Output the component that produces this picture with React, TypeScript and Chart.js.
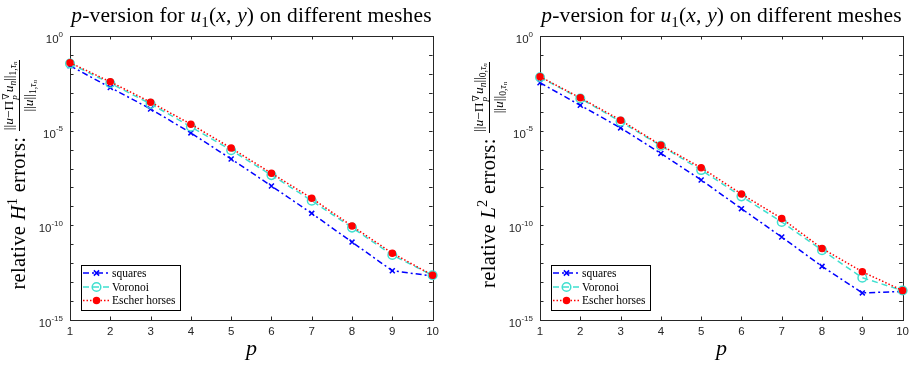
import React, { useEffect, useRef } from 'react';
import { Chart, registerables } from 'chart.js';

Chart.register(...registerables);

// ---------- data ----------
const pValues = [1, 2, 3, 4, 5, 6, 7, 8, 9, 10];
const seriesNames = ['squares', 'Voronoi', 'Escher horses'];

// relative H1 errors
const h1Squares = [2.7e-2, 1.9e-3, 1.4e-4, 7.6e-6, 3.2e-7, 1.2e-8, 4.3e-10, 1.3e-11, 4.0e-13, 2.1e-13];
const h1Voronoi = [3.5e-2, 3.2e-3, 2.6e-4, 1.6e-5, 9.3e-7, 4.5e-8, 2.0e-9, 7.6e-11, 2.7e-12, 2.3e-13];
const h1Escher = [3.9e-2, 3.8e-3, 3.2e-4, 2.2e-5, 1.2e-6, 5.6e-8, 2.7e-9, 9.1e-11, 3.4e-12, 2.3e-13];

// relative L2 errors
const l2Squares = [3.4e-3, 2.2e-4, 1.4e-5, 6.3e-7, 2.5e-8, 7.6e-10, 2.4e-11, 6.8e-13, 2.7e-14, 3.2e-14];
const l2Voronoi = [6.6e-3, 5.0e-4, 3.0e-5, 1.6e-6, 8.3e-8, 3.4e-9, 1.5e-10, 4.9e-12, 1.7e-13, 3.6e-14];
const l2Escher = [7.1e-3, 5.4e-4, 3.6e-5, 1.7e-6, 1.1e-7, 4.5e-9, 2.3e-10, 6.0e-12, 3.5e-13, 3.6e-14];

const yTickExponents = [0, -5, -10, -15];
const yTickBase = '10';
const yTickExpLabels = ['0', '-5', '-10', '-15'];
const yDecades = [0, -1, -2, -3, -4, -5, -6, -7, -8, -9, -10, -11, -12, -13, -14, -15];

// ---------- styles ----------
const SERIF = "'Liberation Serif', 'DejaVu Serif', 'Times New Roman', serif";
const SANS = "'Liberation Sans', Arial, Helvetica, sans-serif";
const AXIS_COLOR = '#262626';

const seriesStyles = [
  { color: '#0000ff', dash: [6, 3, 2, 3], pointStyle: 'crossRot', radius: 3.5, filled: false },
  { color: '#40e0d0', dash: [6, 4], pointStyle: 'circle', radius: 4.3, filled: false },
  { color: '#ff0000', dash: [1.5, 2], pointStyle: 'circle', radius: 3, filled: true },
];

const PANEL_W = 444;
const PANEL_H = 366;
const PLOT_LEFT = 70;
const PLOT_RIGHT = 433;
const PLOT_TOP = 36;
const PLOT_BOTTOM = 320;

function drawMarker(ctx: CanvasRenderingContext2D, style: any, x: number, y: number) {
  ctx.save();
  ctx.setLineDash([]);
  ctx.strokeStyle = style.color;
  ctx.fillStyle = style.color;
  ctx.lineWidth = 1.5;
  if (style.pointStyle === 'crossRot') {
    const r = style.radius * 0.75;
    ctx.beginPath();
    ctx.moveTo(x - r, y - r);
    ctx.lineTo(x + r, y + r);
    ctx.moveTo(x - r, y + r);
    ctx.lineTo(x + r, y - r);
    ctx.stroke();
  } else {
    ctx.beginPath();
    ctx.arc(x, y, style.radius, 0, Math.PI * 2);
    if (style.filled) ctx.fill();
    ctx.stroke();
  }
  ctx.restore();
}

const framePlugin = {
  id: 'matlabFrame',
  beforeDatasetsDraw(chart: any) {
    const { ctx, chartArea, scales } = chart;
    const { left, right, top, bottom } = chartArea;
    ctx.save();
    ctx.strokeStyle = AXIS_COLOR;
    ctx.lineWidth = 1;
    ctx.setLineDash([]);
    ctx.strokeRect(Math.round(left) + 0.5, Math.round(top) + 0.5, Math.round(right - left), Math.round(bottom - top));
    const tl = 3.5;
    ctx.beginPath();
    pValues.forEach((p) => {
      const x = Math.round(scales.x.getPixelForValue(p)) + 0.5;
      ctx.moveTo(x, bottom);
      ctx.lineTo(x, bottom - tl);
      ctx.moveTo(x, top);
      ctx.lineTo(x, top + tl);
    });
    yDecades.forEach((e) => {
      const y = Math.round(scales.y.getPixelForValue(Math.pow(10, e))) + 0.5;
      ctx.moveTo(left, y);
      ctx.lineTo(left + tl, y);
      ctx.moveTo(right, y);
      ctx.lineTo(right - tl, y);
    });
    ctx.stroke();

    // y tick labels: 10 with raised exponent
    ctx.fillStyle = AXIS_COLOR;
    ctx.textBaseline = 'alphabetic';
    yTickExponents.forEach((e, k) => {
      const y = scales.y.getPixelForValue(Math.pow(10, e));
      const expText = yTickExpLabels[k];
      ctx.font = `8px ${SANS}`;
      const ew = ctx.measureText(expText).width;
      const xEnd = left - 7;
      ctx.textAlign = 'right';
      ctx.fillText(expText, xEnd, y + 0.5);
      ctx.font = `11.5px ${SANS}`;
      ctx.fillText(yTickBase, xEnd - ew, y + 7);
    });
    ctx.restore();
  },
};

const legendPlugin = {
  id: 'insideLegend',
  afterDatasetsDraw(chart: any) {
    const { ctx, chartArea } = chart;
    const x0 = Math.round(chartArea.left) + 11;
    const y0 = Math.round(chartArea.bottom) - 55;
    const w = 99;
    const h = 45;
    ctx.save();
    ctx.fillStyle = '#ffffff';
    ctx.fillRect(x0, y0, w, h);
    ctx.strokeStyle = '#000000';
    ctx.lineWidth = 1;
    ctx.strokeRect(x0 + 0.5, y0 + 0.5, w, h);
    const rows = [y0 + 8, y0 + 22, y0 + 35.5];
    seriesNames.forEach((name, i) => {
      const st = seriesStyles[i];
      const y = rows[i];
      ctx.strokeStyle = st.color;
      ctx.lineWidth = 1.5;
      ctx.setLineDash(st.dash);
      ctx.beginPath();
      ctx.moveTo(x0 + 2, y);
      ctx.lineTo(x0 + 29, y);
      ctx.stroke();
      drawMarker(ctx, st, x0 + 15.5, y);
      ctx.setLineDash([]);
      ctx.fillStyle = '#000000';
      ctx.font = `11.5px ${SERIF}`;
      ctx.textBaseline = 'middle';
      ctx.textAlign = 'left';
      ctx.fillText(name, x0 + 31, y + 0.5);
    });
    ctx.restore();
  },
};

type PanelProps = {
  offset: number;
  series: number[][];
  normSub: string;
  errLetter: string;
  errSup: string;
};

function Sub({ children }: { children: React.ReactNode }) {
  return <span style={{ fontSize: '0.7em', verticalAlign: '-0.3em', lineHeight: 0 }}>{children}</span>;
}

function NormSub({ k }: { k: string }) {
  return (
    <span style={{ fontSize: '0.7em', verticalAlign: '-0.35em', lineHeight: 0 }}>
      {k},<i>τ</i>
      <span style={{ fontSize: '0.75em', verticalAlign: '-0.2em' }}>
        <i>n</i>
      </span>
    </span>
  );
}

function Panel({ offset, series, normSub, errLetter, errSup }: PanelProps) {
  const ref = useRef<HTMLCanvasElement | null>(null);

  useEffect(() => {
    if (!ref.current) return;
    const chart = new Chart(ref.current, {
      type: 'line',
      data: {
        datasets: series.map((vals, i) => {
          const st = seriesStyles[i];
          return {
            label: seriesNames[i],
            data: pValues.map((p, j) => ({ x: p, y: vals[j] })),
            borderColor: st.color,
            borderWidth: 1.5,
            borderDash: st.dash,
            pointStyle: st.pointStyle as any,
            pointRadius: st.radius,
            pointBorderColor: st.color,
            pointBackgroundColor: st.filled ? st.color : 'rgba(0,0,0,0)',
            pointBorderWidth: 1.5,
            tension: 0,
            fill: false,
            clip: false as any,
            order: 2 - i,
          };
        }),
      },
      options: {
        animation: false,
        responsive: false,
        maintainAspectRatio: false,
        events: [],
        layout: { padding: { left: 0, right: PANEL_W - PLOT_RIGHT, top: PLOT_TOP, bottom: 0 } },
        plugins: {
          legend: { display: false },
          tooltip: { enabled: false },
          title: { display: false },
        },
        scales: {
          x: {
            type: 'linear',
            min: 1,
            max: 10,
            grid: { display: false, drawTicks: false },
            border: { display: false },
            afterBuildTicks: (s: any) => {
              s.ticks = pValues.map((v) => ({ value: v }));
            },
            afterFit: (s: any) => {
              s.height = PANEL_H - PLOT_BOTTOM;
            },
            ticks: {
              padding: 5,
              color: AXIS_COLOR,
              autoSkip: false,
              maxRotation: 0,
              font: { family: SANS, size: 11.5 },
            },
          },
          y: {
            type: 'logarithmic',
            min: 1e-15,
            max: 1,
            grid: { display: false, drawTicks: false },
            border: { display: false },
            afterBuildTicks: (s: any) => {
              s.ticks = yDecades.map((e) => ({ value: Math.pow(10, e) }));
            },
            afterFit: (s: any) => {
              s.width = PLOT_LEFT;
            },
            ticks: { display: false },
          },
        },
      } as any,
      plugins: [framePlugin, legendPlugin],
    });
    return () => chart.destroy();
  }, [series]);

  const plotW = PLOT_RIGHT - PLOT_LEFT;
  const labelCx = 18;
  const labelCy = 175;
  const labelLen = 320;
  const labelThick = 44;

  return (
    <div style={{ position: 'absolute', left: offset, top: 0, width: PANEL_W, height: PANEL_H }}>
      <canvas ref={ref} width={PANEL_W} height={PANEL_H} style={{ position: 'absolute', left: 0, top: 0, width: PANEL_W, height: PANEL_H }} />
      <div
        style={{
          position: 'absolute',
          left: PLOT_LEFT - 30,
          width: plotW + 60,
          top: 2,
          textAlign: 'center',
          fontFamily: SERIF,
          fontSize: 21.5,
          letterSpacing: '0.15px',
          lineHeight: '26px',
          whiteSpace: 'nowrap',
          color: '#000',
        }}
      >
        <i>p</i>-version for <i>u</i>
        <Sub>1</Sub>(<i>x</i>, <i>y</i>) on different meshes
      </div>
      <div
        style={{
          position: 'absolute',
          left: PLOT_LEFT,
          width: plotW,
          top: 336,
          textAlign: 'center',
          fontFamily: SERIF,
          fontStyle: 'italic',
          fontSize: 22,
          lineHeight: '24px',
          color: '#000',
        }}
      >
        p
      </div>
      <div
        style={{
          position: 'absolute',
          left: labelCx - labelLen / 2,
          top: labelCy - labelThick / 2,
          width: labelLen,
          height: labelThick,
          transform: 'rotate(-90deg)',
          display: 'flex',
          alignItems: 'center',
          justifyContent: 'center',
          fontFamily: SERIF,
          whiteSpace: 'nowrap',
          color: '#000',
        }}
      >
        <span style={{ fontSize: 20.5, letterSpacing: '0.3px' }}>
          relative <i>{errLetter}</i>
          <span style={{ fontSize: '0.7em', verticalAlign: '0.55em', lineHeight: 0 }}>{errSup}</span> errors:&nbsp;
        </span>
        <span style={{ display: 'inline-flex', flexDirection: 'column', alignItems: 'center', fontSize: 13.5, lineHeight: '15px' }}>
          <span style={{ padding: '0 1px 2px', display: 'inline-flex', alignItems: 'center' }}>
            <span>
              ||<i>u</i>−Π
            </span>
            <span
              style={{
                display: 'inline-flex',
                flexDirection: 'column',
                fontSize: '0.68em',
                lineHeight: '8px',
                alignItems: 'flex-start',
                margin: '0 1px',
                transform: 'translateY(1px)',
              }}
            >
              <span>∇</span>
              <i>p</i>
            </span>
            <span>
              <i>u</i>
              <Sub>
                <i>n</i>
              </Sub>
              ||<NormSub k={normSub} />
            </span>
          </span>
          <span style={{ borderTop: '1px solid #000', alignSelf: 'stretch', textAlign: 'center', paddingTop: 1 }}>
            ||<i>u</i>||<NormSub k={normSub} />
          </span>
        </span>
      </div>
    </div>
  );
}

const h1Series = [h1Squares, h1Voronoi, h1Escher];
const l2Series = [l2Squares, l2Voronoi, l2Escher];

export default function App() {
  return (
    <div style={{ position: 'absolute', left: 0, top: 0, width: 914, height: 366, background: '#fff', overflow: 'hidden' }}>
      <Panel offset={0} series={h1Series} normSub="1" errLetter="H" errSup="1" />
      <Panel offset={470} series={l2Series} normSub="0" errLetter="L" errSup="2" />
    </div>
  );
}
